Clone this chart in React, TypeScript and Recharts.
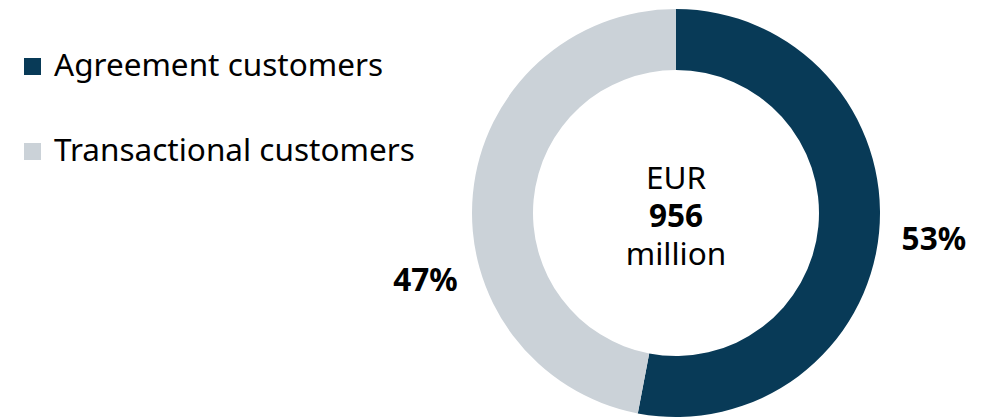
import React from "react";
import { PieChart, Pie, Cell, Legend } from "recharts";

const segments = ["Agreement customers", "Transactional customers"];
const shares = [53, 47];
const colors = ["#083a57", "#cbd2d8"];
const centerLines = ["EUR", "956", "million"];

const data = segments.map((name, i) => ({ name, value: shares[i] }));

const FONT = "'Noto Sans', 'Open Sans', sans-serif";
const FS = 31.5;
const RAD = Math.PI / 180;

const renderLabel = (props: any) => {
  const { cx, cy, outerRadius, midAngle, value, index } = props;
  // left label sits a bit lower in the original to clear the legend
  const angle = Math.cos(midAngle * RAD) < 0 ? midAngle + 20 : midAngle;
  const r = outerRadius + 55;
  const x = cx + r * Math.cos(angle * RAD);
  const y = cy - r * Math.sin(angle * RAD);
  return (
    <g>
      <text
        x={x}
        y={y}
        textAnchor="middle"
        dominantBaseline="central"
        fontFamily={FONT}
        fontSize={FS}
        fontWeight={700}
        fill="#000"
      >
        {value}%
      </text>
      {index === 0 &&
        centerLines.map((line, i) => (
          <text
            key={line}
            x={cx}
            y={cy - 24 + i * 38}
            textAnchor="middle"
            fontFamily={FONT}
            fontSize={FS}
            fontWeight={i === 1 ? 700 : 400}
            fill="#000"
          >
            {line}
          </text>
        ))}
    </g>
  );
};

const renderLegend = () => (
  <div style={{ fontFamily: FONT, fontSize: FS, color: "#000", lineHeight: "40px" }}>
    {segments.map((s, i) => (
      <div
        key={s}
        style={{ display: "flex", alignItems: "center", height: 40, marginBottom: i === 0 ? 45 : 0 }}
      >
        <span
          style={{
            display: "inline-block",
            width: 17,
            height: 17,
            background: colors[i],
            marginRight: 13,
            marginTop: 4,
          }}
        />
        <span>{s}</span>
      </div>
    ))}
  </div>
);

const App: React.FC = () => {
  return (
    <div style={{ position: "absolute", left: 0, top: 0, width: 990, height: 417, background: "#fff" }}>
      <PieChart width={990} height={417} margin={{ top: 0, right: 0, bottom: 0, left: 0 }}>
        <Legend
          layout="horizontal"
          verticalAlign="middle"
          align="center"
          content={renderLegend}
          wrapperStyle={{ left: 24, top: 44, width: 420 }}
        />
        <Pie
          data={data}
          dataKey="value"
          cx={676}
          cy={213}
          innerRadius={143}
          outerRadius={204}
          startAngle={90}
          endAngle={-270}
          stroke="none"
          label={renderLabel}
          labelLine={false}
          isAnimationActive={false}
        >
          {data.map((d, i) => (
            <Cell key={d.name} fill={colors[i]} />
          ))}
        </Pie>
      </PieChart>
    </div>
  );
};

export default App;
